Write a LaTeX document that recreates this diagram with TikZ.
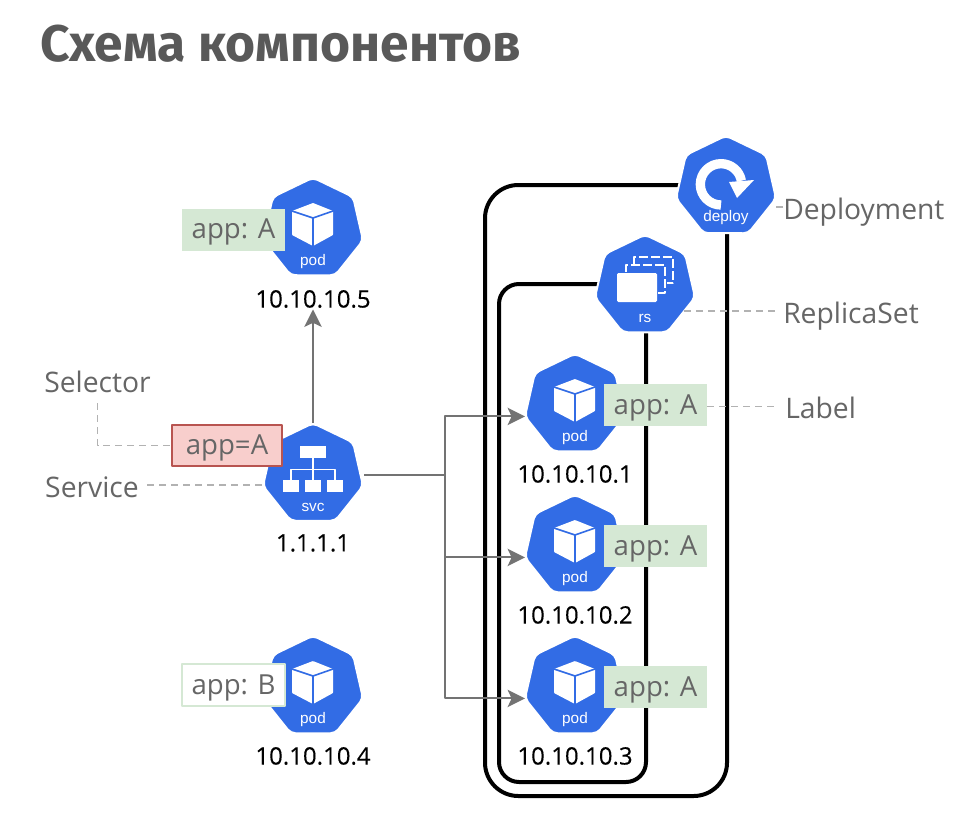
\documentclass[tikz,border=0pt]{standalone}
\usepackage{fontspec}
\setmainfont{Open Sans}
\newfontfamily\titlefont{Fira Sans}
\newfontfamily\iconfont{Liberation Sans}
\newfontfamily\ipfont[FakeBold=0.2]{Open Sans}
\usetikzlibrary{shapes.geometric,arrows.meta}
\definecolor{kubeblue}{HTML}{326CE5}
\definecolor{labelgreen}{HTML}{D5E8D4}
\definecolor{selectred}{HTML}{F8CECC}
\definecolor{selectline}{HTML}{B85450}
\definecolor{textgray}{HTML}{666666}
\tikzset{
	kube/.style={regular polygon,regular polygon sides=7,minimum size=77pt,inner sep=0pt,outer sep=0pt,
		fill=kubeblue,draw=white,line width=1.5pt,rounded corners=3.5pt},
	icontext/.style={font=\iconfont\fontsize{11.5}{12}\selectfont,text=white,inner sep=0pt},
	ip/.style={font=\ipfont\fontsize{18}{20}\selectfont,text=black,inner sep=1pt},
	caption/.style={font=\fontsize{21.2}{23}\selectfont,text=textgray,inner sep=0pt,text height=18pt,text depth=0pt},
	tagbox/.style={minimum width=77.25pt,minimum height=31.5pt,inner sep=0pt,text height=16pt,text depth=1.8pt,font=\fontsize{20.7}{23}\selectfont,text=textgray},
	tagA/.style={tagbox,fill=labelgreen},
	tagB/.style={tagbox,fill=white,draw=labelgreen,line width=1.2pt},
	tagS/.style={tagbox,minimum width=82pt,minimum height=30.5pt,fill=selectred,draw=selectline,line width=1.4pt},
	frame/.style={draw=black,line width=3pt},
	link/.style={draw=black!55,line width=1.5pt,->},
	leader/.style={draw=black!30,line width=1.2pt,dash pattern=on 5pt off 4pt},
	podicon/.pic={
		\fill[white,rounded corners=.5pt] (-21,-18)--(0,-26)--(20,-18)--(20,6)--(0,17)--(-21,6)--cycle;
		\draw[kubeblue,line width=1.2pt] (-21,-18)--(0,-11)--(20,-18) (0,-11)--(0,17);
	},
	svcicon/.pic={
		\fill[white] (-13.3,-29) rectangle (12.7,-17);
		\foreach \bx in {-30,-8,14} \fill[white] (\bx,5.7) rectangle ++(16,12);
		\draw[white,line width=1.4pt] (0,-17)--(0,6) (-22,6)--(-22,-5)--(22,-5)--(22,6);
	},
	rsicon/.pic={
		\draw[white,line width=2.2pt,dash pattern=on 7pt off 2pt] (-11,-22)--(-11,-29)--(28,-29)--(28,-3)--(22,-3);
		\draw[white,line width=2.2pt,dash pattern=on 7pt off 2pt] (-19,-14)--(-19,-21)--(20,-21)--(20,7)--(13,7);
		\fill[white,rounded corners=1pt] (-28,-13) rectangle (12,16);
	},
	deployicon/.pic={
		\draw[white,line width=7pt] (-5,18) arc[start angle=-90,end angle=-350,radius=15.5pt];
		\fill[white] (3,-5)--(28,-7)--(11,11)--cycle;
	},
}
\begin{document}
\begin{tikzpicture}[x=.75pt,y=-.75pt,line join=round,>={Stealth[length=13pt,width=13pt,inset=3pt]}]
	\path[use as bounding box,fill=white] (0,0) rectangle (959,824);
	\node[anchor=base west,inner sep=0pt,text=black!65,font=\titlefont\bfseries\fontsize{38.6}{42}\selectfont] (title) at (40,61) {Схема компонентов};
	% deployment and replicaset frames
	\draw[frame,rounded corners=25pt] (485,185) rectangle (727,796);
	\draw[frame,rounded corners=15pt] (499,284) rectangle (646,782);
	% pods
	\foreach \name/\px/\py/\addr/\addry in {podE/313/229/10.10.10.5/299, podD/313/687/10.10.10.4/756, podA/575/405/10.10.10.1/474, podB/575/546/10.10.10.2/615, podC/575/687/10.10.10.3/756}{
		\node[kube] (\name) at (\px,\py) {};
		\pic at (\px,\py) {podicon};
		\node[icontext] (\name-txt) at (\px,\py+33) {pod};
		\node[ip] (\name-ip) at (\px,\addry) {\addr};
	}
	\node[kube] (svc) at (313,474.5) {};
	\pic at (313,474.5) {svcicon};
	\node[icontext] (svc-txt) at (313,507) {svc};
	\node[ip] (svc-ip) at (313,543) {1.1.1.1};
	\node[kube] (rs) at (645,286) {};
	\pic at (645,286) {rsicon};
	\node[icontext] (rs-txt) at (645,318) {rs};
	\node[kube] (deploy) at (726,187) {};
	\pic at (726,187) {deployicon};
	\node[icontext] (deploy-txt) at (726,218) {deploy};
	% tags
	\node[tagA] (tagE) at (233.5,229.5) {app: A};
	\node[tagB] (tagD) at (233.5,685) {app: B};
	\node[tagS] (tagS) at (227,445.5) {app=A};
	\foreach \name/\py in {tagPA/405, tagPB/546, tagPC/687} \node[tagA] (\name) at (655.5,\py) {app: A};
	% captions
	\node[caption] (selector) at (97.5,380) {Selector};
	\node[caption] (service) at (92,485) {Service};
	\node[caption,anchor=west] (deployment) at (783,207) {Deployment};
	\node[caption,anchor=west] (replicaset) at (783,311) {ReplicaSet};
	\node[caption,anchor=west] (label) at (785,406.5) {Label};
	\draw[leader] (selector.south) ++(0,11) |- (tagS.west);
	\draw[leader] ([xshift=6pt]service.east) -- (service.east -| svc.corner 3);
	\draw[leader] (deployment.west) -- (deployment.west -| deploy.east);
	\draw[leader] ([xshift=-6pt]rs.east |- replicaset.west) -- ([xshift=-4pt]replicaset.west);
	\draw[leader] (label.west -| tagPA.east) -- ([xshift=-5pt]label.west);
	% connectors
	\coordinate (fork) at (445,474.5);
	\draw[link,-] ([xshift=3pt]svc.east) -- (fork);
	\foreach \name in {podA,podB,podC} \draw[link] (fork) |- (\name.corner 3);
	\draw[link,line width=1.9pt] (svc.north) -- (podE-ip.south);
\end{tikzpicture}
\end{document}
